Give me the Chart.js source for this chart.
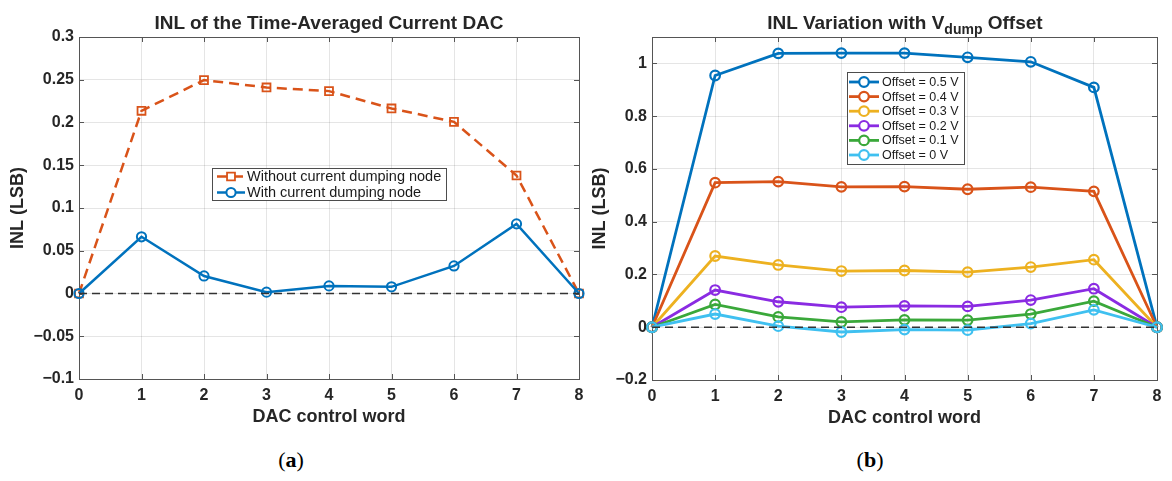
<!DOCTYPE html>
<html><head><meta charset="utf-8">
<script src="https://cdn.jsdelivr.net/npm/chart.js@4.4.1/dist/chart.umd.min.js"></script>
<style>
html,body{margin:0;padding:0;background:#fff;}
#wrap{position:relative;width:1172px;height:481px;overflow:hidden;background:#fff;font-family:"Liberation Sans",Arial,sans-serif;}
canvas{position:absolute;top:0;}
#ca{left:0;}
#cb{left:580px;}
.title{position:absolute;font-weight:bold;font-size:19px;color:#262626;white-space:nowrap;transform:translate(-50%,-50%);line-height:1;}
.title sub{font-size:14px;vertical-align:-5px;line-height:0;}
.cap{position:absolute;font-family:"Liberation Serif","Times New Roman",serif;font-size:22px;color:#000;transform:translate(-50%,-50%);line-height:1;}
</style></head>
<body><div id="wrap">
<canvas id="ca" width="600" height="440" style="width:600px;height:440px"></canvas>
<canvas id="cb" width="592" height="440" style="width:592px;height:440px"></canvas>
<div class="title" style="left:329px;top:22px">INL of the Time-Averaged Current DAC</div>
<div class="title" style="left:905px;top:22px">INL Variation with V<sub>dump</sub> Offset</div>
<div class="cap" style="left:291px;top:460px">(<b>a</b>)</div>
<div class="cap" style="left:870px;top:460px">(<b>b</b>)</div>
</div>
<script>
// ---- data ----
const xLabels = ['0','1','2','3','4','5','6','7','8'];
const withoutDump = [0, 0.2137, 0.2496, 0.241, 0.2367, 0.2164, 0.2008, 0.138, 0];
const withDump    = [0, 0.0663, 0.0205, 0.0016, 0.0089, 0.0078, 0.0322, 0.0814, 0];
const off05 = [0, 0.954, 1.038, 1.039, 1.039, 1.023, 1.006, 0.909, 0];
const off04 = [0, 0.548, 0.552, 0.532, 0.533, 0.523, 0.531, 0.515, 0];
const off03 = [0, 0.270, 0.236, 0.213, 0.215, 0.209, 0.228, 0.256, 0];
const off02 = [0, 0.141, 0.0965, 0.076, 0.081, 0.079, 0.103, 0.146, 0];
const off01 = [0, 0.0863, 0.039, 0.020, 0.028, 0.027, 0.050, 0.099, 0];
const off00 = [0, 0.050, 0.004, -0.018, -0.009, -0.011, 0.014, 0.066, 0];
const yTicksA = {min:-0.1, max:0.3, step:0.05};
const yTicksB = {min:-0.2, max:1.1, step:0.2, lastShown:1.0};

const FONT = '"Liberation Sans", Arial, sans-serif';
Chart.defaults.font.family = FONT;
Chart.defaults.color = '#262626';

function fmt(v){ const s = String(parseFloat(v.toFixed(3))); return s.replace('-', '\u2212'); }

const frame = {
  id:'frame',
  beforeDatasetsDraw(chart){
    const {ctx, chartArea:a} = chart; const xs = chart.scales.x, ys = chart.scales.y;
    ctx.save(); ctx.strokeStyle='#555'; ctx.lineWidth=1;
    ctx.strokeRect(Math.round(a.left)+0.5, Math.round(a.top)+0.5, Math.round(a.right-a.left), Math.round(a.bottom-a.top));
    ctx.beginPath();
    xs.ticks.forEach((t,i)=>{ const p=Math.round(xs.getPixelForTick(i))+0.5;
      ctx.moveTo(p,a.bottom); ctx.lineTo(p,a.bottom-5); ctx.moveTo(p,a.top); ctx.lineTo(p,a.top+5); });
    ys.ticks.forEach(t=>{ const p=Math.round(ys.getPixelForValue(t.value))+0.5;
      ctx.moveTo(a.left,p); ctx.lineTo(a.left+5,p); ctx.moveTo(a.right,p); ctx.lineTo(a.right-5,p); });
    ctx.stroke(); ctx.restore();
  }
};
const zeroLine = {
  id:'zeroLine',
  afterDatasetsDraw(chart){
    const {ctx, chartArea:a} = chart; const y = chart.scales.y.getPixelForValue(0);
    ctx.save(); ctx.strokeStyle='#333'; ctx.lineWidth=1.7; ctx.setLineDash([8,5]);
    ctx.beginPath(); ctx.moveTo(a.left,y); ctx.lineTo(a.right,y); ctx.stroke(); ctx.restore();
  }
};
const boxLegend = {
  id:'boxLegend',
  afterDraw(chart, args, o){
    const ctx = chart.ctx; ctx.save();
    ctx.fillStyle='#fff'; ctx.fillRect(o.x,o.y,o.w,o.h);
    ctx.strokeStyle='#4d4d4d'; ctx.lineWidth=1; ctx.strokeRect(o.x+0.5,o.y+0.5,o.w,o.h);
    chart.data.datasets.forEach((ds,i)=>{
      const cy = o.y + o.first + i*o.rowH;
      const x0 = o.x + o.lineStart, x1 = x0 + o.lineLen, mx = (x0+x1)/2;
      ctx.strokeStyle = ds.borderColor; ctx.lineWidth = ds.borderWidth;
      ctx.setLineDash(ds.borderDash || []);
      ctx.beginPath(); ctx.moveTo(x0,cy); ctx.lineTo(x1,cy); ctx.stroke();
      ctx.setLineDash([]);
      ctx.lineWidth = ds.pointBorderWidth;
      const r = ds.pointRadius;
      ctx.fillStyle = o.markerFill;
      ctx.beginPath();
      if (ds.pointStyle === 'rect') { const s = r*Math.SQRT1_2; ctx.rect(mx-s, cy-s, 2*s, 2*s); }
      else { ctx.arc(mx, cy, r, 0, Math.PI*2); }
      ctx.fill(); ctx.stroke();
      ctx.fillStyle='#1a1a1a'; ctx.font = o.font; ctx.textBaseline='middle'; ctx.textAlign='left';
      ctx.fillText(ds.label, o.x + o.textX, cy+0.5);
    });
    ctx.restore();
  }
};

function scalesFor(yt, yWidth, titlePadTop, xPadBottom){
  return {
    x: { type:'category', offset:false,
      grid:{ color:'rgba(0,0,0,0.1)', drawTicks:false }, border:{display:false},
      ticks:{ font:{size:16, weight:'bold'}, padding:7, color:'#262626', maxRotation:0, autoSkip:false },
      title:{ display:true, text:'DAC control word', font:{size:18, weight:'bold'}, color:'#262626', padding:{top:0,bottom:xPadBottom} },
      afterFit(s){ s.height = 55; }
    },
    y: { min:yt.min, max:yt.max,
      grid:{ color:'rgba(0,0,0,0.1)', drawTicks:false }, border:{display:false},
      ticks:{ stepSize:yt.step, font:{size:16, weight:'bold'}, padding:5, color:'#262626', callback:(v)=>fmt(v) },
      title:{ display:true, text:'INL (LSB)', font:{size:18, weight:'bold'}, color:'#262626', padding:{top:titlePadTop,bottom:0} },
      afterBuildTicks(s){ if (yt.lastShown !== undefined) s.ticks = s.ticks.filter(t=>t.value <= yt.lastShown + 1e-9); },
      afterFit(s){ s.width = yWidth; }
    }
  };
}

const orange = '#D95319', blue = '#0072BD';
new Chart(document.getElementById('ca'), {
  type:'line',
  data:{ labels:xLabels, datasets:[
    { label:'Without current dumping node', data:withoutDump, borderColor:orange, borderWidth:2.5, borderDash:[10,6],
      pointStyle:'rect', pointRadius:5.6, pointBorderWidth:1.8, pointBorderColor:orange, pointBackgroundColor:'rgba(0,0,0,0)', tension:0, clip:false, order:2 },
    { label:'With current dumping node', data:withDump, borderColor:blue, borderWidth:2.5,
      pointStyle:'circle', pointRadius:4.6, pointBorderWidth:2, pointBorderColor:blue, pointBackgroundColor:'rgba(0,0,0,0)', tension:0, clip:false, order:1 }
  ]},
  options:{ responsive:false, animation:false, events:[],
    layout:{ padding:{ left:0, right:21, top:37, bottom:6 } },
    scales: scalesFor(yTicksA, 79, 7, 6),
    plugins:{ legend:{display:false}, tooltip:{enabled:false},
      boxLegend:{ x:212, y:168, w:234, h:32, first:8.5, rowH:16, lineStart:5, lineLen:28, textX:35, font:'14.5px '+FONT, markerFill:'#fff' } }
  },
  plugins:[frame, zeroLine, boxLegend]
});

const colsB = ['#0072BD','#D95319','#EDB120','#8A2BE2','#3AA83A','#3FC0F0'];
const seriesB = [off05, off04, off03, off02, off01, off00];
const labelsB = ['Offset = 0.5 V','Offset = 0.4 V','Offset = 0.3 V','Offset = 0.2 V','Offset = 0.1 V','Offset = 0 V'];
new Chart(document.getElementById('cb'), {
  type:'line',
  data:{ labels:xLabels, datasets: seriesB.map((d,i)=>({
    label:labelsB[i], data:d, borderColor:colsB[i], borderWidth:2.8,
    pointStyle:'circle', pointRadius:4.8, pointBorderWidth:2.2, pointBorderColor:colsB[i], pointBackgroundColor:'rgba(0,0,0,0)',
    tension:0, clip:false, order:6-i })) },
  options:{ responsive:false, animation:false, events:[],
    layout:{ padding:{ left:0, right:15, top:37, bottom:5 } },
    scales: scalesFor(yTicksB, 72, 9, 6),
    plugins:{ legend:{display:false}, tooltip:{enabled:false},
      boxLegend:{ x:267, y:72, w:117, h:92, first:10, rowH:14.6, lineStart:2, lineLen:30, textX:35, font:'12.5px '+FONT, markerFill:'#fff' } }
  },
  plugins:[frame, zeroLine, boxLegend]
});
</script>
</body></html>
